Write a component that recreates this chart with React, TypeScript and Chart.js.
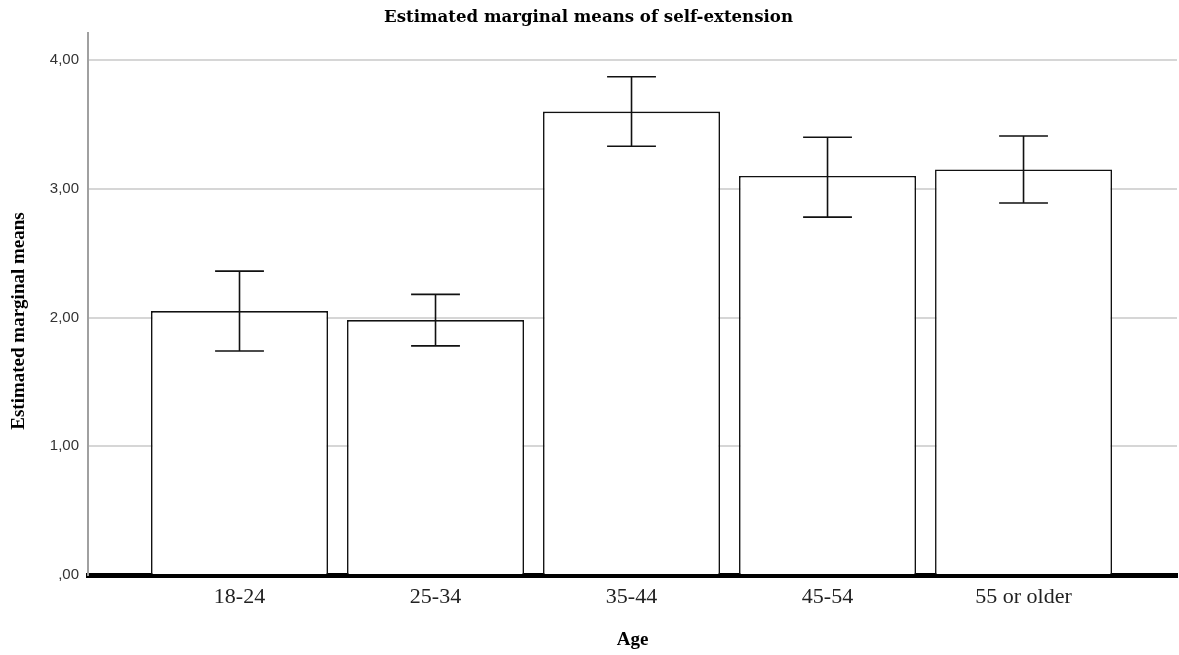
import React, { useEffect, useRef } from "react";
import { Chart, registerables } from "chart.js";

Chart.register(...registerables);

const categories = ["18-24", "25-34", "35-44", "45-54", "55 or older"];
const means = [2.05, 1.98, 3.6, 3.1, 3.15];
const lowerCI = [1.74, 1.78, 3.33, 2.78, 2.89];
const upperCI = [2.36, 2.18, 3.87, 3.4, 3.41];
const yTicks = [0, 1, 2, 3, 4];
const chartTitle = "Estimated marginal means of self-extension";
const yTitle = "Estimated marginal means";
const xTitle = "Age";

const fmt = (v: number) => (v === 0 ? ",00" : v.toFixed(2).replace(".", ","));

const errorBarPlugin = {
  id: "errorBars",
  afterDatasetsDraw(chart: any) {
    const { ctx, scales } = chart;
    const xs = scales.x;
    const ys = scales.y;
    const meta = chart.getDatasetMeta(0);
    ctx.save();
    ctx.strokeStyle = "#111";
    ctx.lineWidth = 1.6;
    categories.forEach((_, i) => {
      const x = xs.getPixelForValue(i);
      const yU = ys.getPixelForValue(upperCI[i]);
      const yL = ys.getPixelForValue(lowerCI[i]);
      const bw = meta.data[i] ? meta.data[i].width : 177;
      const half = bw * 0.138;
      ctx.beginPath();
      ctx.moveTo(x, yU);
      ctx.lineTo(x, yL);
      ctx.moveTo(x - half, yU);
      ctx.lineTo(x + half, yU);
      ctx.moveTo(x - half, yL);
      ctx.lineTo(x + half, yL);
      ctx.stroke();
    });
    ctx.restore();
  },
};

const yTitlePlugin = {
  id: "yTitle",
  afterDraw(chart: any) {
    const { ctx, chartArea } = chart;
    ctx.save();
    ctx.font = "bold 19px 'Liberation Serif'";
    ctx.fillStyle = "#000";
    ctx.textAlign = "center";
    ctx.textBaseline = "middle";
    ctx.translate(19, (chartArea.top + chartArea.bottom) / 2 + 17);
    ctx.rotate(-Math.PI / 2);
    ctx.fillText(yTitle, 0, 0);
    ctx.restore();
  },
};

export default function App() {
  const ref = useRef<HTMLCanvasElement>(null);
  useEffect(() => {
    if (!ref.current) return;
    const chart = new Chart(ref.current, {
      type: "bar",
      data: {
        datasets: [
          {
            data: categories.map((_, i) => ({ x: i, y: means[i] })),
            backgroundColor: "#ffffff",
            borderColor: "#111",
            borderWidth: 1.6,
            borderSkipped: "bottom",
            categoryPercentage: 1,
            barPercentage: 0.903,
          },
        ],
      },
      options: {
        animation: false,
        responsive: false,
        devicePixelRatio: 1,
        layout: { padding: { left: 0, right: 2, top: 0, bottom: 0 } },
        plugins: {
          legend: { display: false },
          tooltip: { enabled: false },
          title: {
            display: true,
            text: chartTitle,
            color: "#000",
            font: { family: "'DejaVu Serif'", size: 16.6, weight: "bold", lineHeight: 1.2 },
            padding: { top: 8, bottom: 33 - 8 - 16.6 * 1.2 },
          },
        },
        scales: {
          x: {
            type: "linear",
            offset: false,
            min: -0.773,
            max: 4.783,
            grid: { display: false, drawTicks: false, offset: false },
            border: { display: true, color: "#000", width: 5 },
            afterBuildTicks: (scale: any) => {
              scale.ticks = categories.map((_, i) => ({ value: i }));
            },
            afterFit: (scale: any) => {
              scale.height = 80;
            },
            ticks: {
              autoSkip: false,
              maxRotation: 0,
              padding: 9,
              color: "#222",
              font: { family: "'Liberation Serif'", size: 22 },
              callback: (v: any) => categories[v as number] ?? "",
            },
            title: {
              display: true,
              text: xTitle,
              color: "#000",
              font: { family: "'Liberation Serif'", size: 19, weight: "bold", lineHeight: 1.2 },
              padding: { top: 0, bottom: 4 },
            },
          },
          y: {
            min: 0,
            max: 4.21,
            grid: { color: "#d6d6d6", lineWidth: 2, drawTicks: false },
            border: { display: true, color: "#a0a0a0", width: 2 },
            afterBuildTicks: (scale: any) => {
              scale.ticks = yTicks.map((v) => ({ value: v }));
            },
            afterFit: (scale: any) => {
              scale.width = 88;
            },
            ticks: {
              padding: 9,
              color: "#333",
              font: { family: "'Liberation Sans'", size: 15 },
              callback: (v: any) => fmt(Number(v)),
            },
          },
        },
      },
      plugins: [errorBarPlugin, yTitlePlugin],
    });
    return () => chart.destroy();
  }, []);
  return (
    <div style={{ position: "fixed", left: 0, top: 0, width: 1179, height: 655, background: "#fff" }}>
      <canvas ref={ref} width={1179} height={655} />
    </div>
  );
}
